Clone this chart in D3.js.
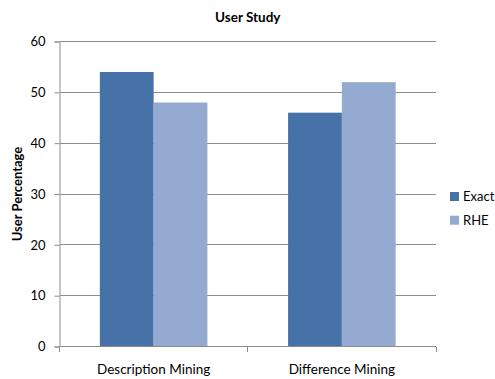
<!DOCTYPE html>
<html>
<head>
<meta charset="utf-8">
<script src="https://cdn.jsdelivr.net/npm/d3@7"></script>
<style>
  body { margin: 0; background: #fff; }
  svg { display: block; font-family: Lato, "Open Sans", sans-serif; }
</style>
</head>
<body>
<div id="chart"></div>
<script>
// data
const categories = ["Description Mining", "Difference Mining"];
const seriesNames = ["Exact", "RHE"];
const exactValues = [54, 46];
const rheValues = [48, 52];
const yTicks = [0, 10, 20, 30, 40, 50, 60];

const colors = { Exact: "#4672a8", RHE: "#95aad1" };

const width = 495, height = 379;
const margin = { top: 41.5, right: 59, bottom: 32.5, left: 59.5 };
const plotW = width - margin.left - margin.right;
const plotH = height - margin.top - margin.bottom;

const rows = categories.map((c, i) => ({
  category: c,
  values: [
    { key: "Exact", value: exactValues[i] },
    { key: "RHE", value: rheValues[i] }
  ]
}));

const svg = d3.select("#chart").append("svg")
  .attr("width", width)
  .attr("height", height);

// title
svg.append("text")
  .attr("x", margin.left + plotW / 2)
  .attr("y", 22)
  .attr("text-anchor", "middle")
  .style("font-size", "13.5px")
  .style("font-weight", "bold")
  .text("User Study");

const g = svg.append("g")
  .attr("transform", `translate(${margin.left},${margin.top})`);

// Excel-style gap width 150%
const x0 = d3.scaleBand()
  .domain(categories)
  .range([0, plotW])
  .paddingInner(3 / 7)
  .paddingOuter(1.5 / 7);

const x1 = d3.scaleBand()
  .domain(seriesNames)
  .range([0, x0.bandwidth()]);

const y = d3.scaleLinear()
  .domain([0, 60])
  .range([plotH, 0]);

// gridlines
g.selectAll(".grid")
  .data(yTicks.filter(t => t > 0))
  .enter().append("line")
  .attr("class", "grid")
  .attr("x1", 0).attr("x2", plotW)
  .attr("y1", d => y(d)).attr("y2", d => y(d))
  .attr("stroke", "#8c8c8c")
  .attr("stroke-width", 1)
  .attr("shape-rendering", "crispEdges");

// y axis
const yAxis = g.append("g")
  .call(d3.axisLeft(y).tickValues(yTicks).tickSize(5).tickPadding(9));
yAxis.select(".domain").attr("stroke", "#8c8c8c");
yAxis.selectAll(".tick line").attr("stroke", "#8c8c8c");
yAxis.selectAll("text")
  .style("font-size", "13px")
  .style("font-family", "Lato, sans-serif")
  .attr("fill", "#000");

// bars
const groups = g.selectAll(".cat")
  .data(rows)
  .enter().append("g")
  .attr("class", "cat")
  .attr("transform", d => `translate(${x0(d.category)},0)`);

groups.selectAll("rect")
  .data(d => d.values)
  .enter().append("rect")
  .attr("x", d => x1(d.key))
  .attr("width", x1.bandwidth())
  .attr("y", d => y(d.value))
  .attr("height", d => plotH - y(d.value))
  .attr("fill", d => colors[d.key]);

// x axis
const xAxisG = g.append("g")
  .attr("transform", `translate(0,${plotH})`);
xAxisG.append("line")
  .attr("x1", 0).attr("x2", plotW)
  .attr("stroke", "#8c8c8c")
  .attr("shape-rendering", "crispEdges");
const boundaries = [0, plotW / 2, plotW];
xAxisG.selectAll(".xtick")
  .data(boundaries)
  .enter().append("line")
  .attr("x1", d => d).attr("x2", d => d)
  .attr("y1", 0).attr("y2", 5)
  .attr("stroke", "#8c8c8c")
  .attr("shape-rendering", "crispEdges");
xAxisG.selectAll(".xlabel")
  .data(categories)
  .enter().append("text")
  .attr("x", d => x0(d) + x0.bandwidth() / 2)
  .attr("y", 27)
  .attr("text-anchor", "middle")
  .style("font-size", "13.5px")
  .text(d => d);

// y axis title
svg.append("text")
  .attr("transform", `translate(22,${margin.top + plotH / 2}) rotate(-90)`)
  .attr("text-anchor", "middle")
  .style("font-size", "13px")
  .style("font-weight", "bold")
  .text("User Percentage");

// legend
const legend = svg.append("g")
  .attr("transform", "translate(450,192)");
seriesNames.forEach((name, i) => {
  const item = legend.append("g")
    .attr("transform", `translate(0,${i * 23.7})`);
  item.append("rect")
    .attr("width", 9).attr("height", 9)
    .attr("fill", colors[name]);
  item.append("text")
    .attr("x", 13).attr("y", 9)
    .style("font-size", "13px")
    .text(name);
});
</script>
</body>
</html>
